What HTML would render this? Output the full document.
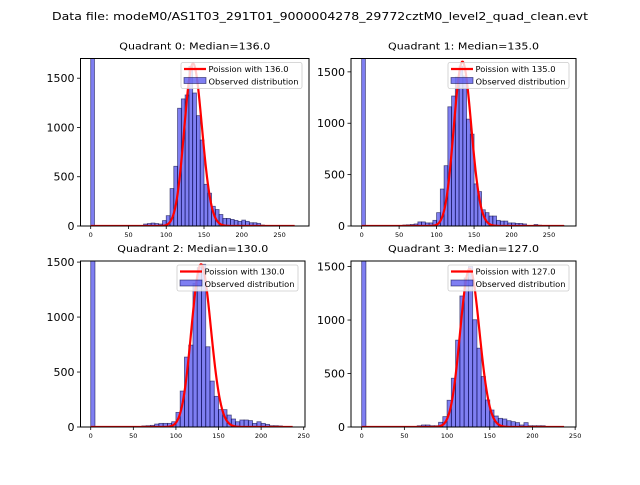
<!DOCTYPE html>
<html><head><meta charset="utf-8"><style>
body{margin:0;background:#fff;}
svg text{font-family:"DejaVu Sans","Liberation Sans",sans-serif;}
</style></head><body>
<svg id="fig" width="640" height="480" viewBox="0 0 640 480">
<rect width="640" height="480" fill="#fff"/>
<text x="52" y="20" font-size="11" textLength="536" lengthAdjust="spacingAndGlyphs">Data file: modeM0/AS1T03_291T01_9000004278_29772cztM0_level2_quad_clean.evt</text>
</svg>
<script>
// Data (bin start values, 5-unit bins)
const binWidth = 5;
const q0Bins = [0,70,75,80,85,90,95,100,105,110,115,120,125,130,135,140,145,150,155,160,165,170,175,180,185,190,195,200,205,210,215,220,225,230,235];
const q0Counts = [5000,20,25,30,25,20,55,105,380,606,1195,1290,1330,1620,1350,1120,873,423,333,200,167,117,77,77,67,57,47,60,47,33,33,27,10,5,5];
const q1Bins = [0,55,60,65,70,75,80,85,90,95,100,105,110,115,120,125,130,135,140,145,150,155,160,165,170,175,180,185,190,195,200,205,210,215,220,225,230,235,240,265];
const q1Counts = [5000,10,12,15,20,40,40,30,30,55,130,360,587,1160,1265,1450,1555,1460,1040,894,410,335,158,130,97,97,55,48,48,30,30,25,25,20,5,5,15,8,5,5];
const q2Bins = [0,60,65,70,75,80,85,90,95,100,105,110,115,120,125,130,135,140,145,150,155,160,165,170,175,180,185,190,195,200,205,210,215,220];
const q2Counts = [5000,10,12,15,27,33,33,33,48,133,327,636,745,1306,1450,1480,730,418,279,158,158,109,73,48,64,64,58,33,48,33,24,12,12,10];
const q3Bins = [0,65,70,75,80,85,90,95,100,105,110,115,120,125,130,135,140,145,150,155,160,165,170,175,180,185,190,195,200,205,210,215];
const q3Counts = [5000,12,19,19,12,12,44,97,250,456,812,1225,1394,1500,1003,737,472,253,159,103,81,75,59,50,41,19,41,12,12,12,12,5];
const medians = [136.0,135.0,130.0,127.0];
const curvePeaks = [1650,1600,1480,1480];
const curveMax = [270,270,237,237];
const xTicks01 = [0,50,100,150,200,250];
const xTicks23 = [0,50,100,150,200,250];
const yTicks = [0,500,1000,1500];

const NS = "http://www.w3.org/2000/svg";
const svg = document.getElementById('fig');
function mk(tag, attrs, parent){const e=document.createElementNS(NS,tag);for(const k in attrs)e.setAttribute(k,attrs[k]);(parent||svg).appendChild(e);return e;}
function lgamma(z){
  if(z<7){let p=1;while(z<7){p*=z;z++;}return lgamma(z)-Math.log(p);}
  return (z-0.5)*Math.log(z)-z+0.5*Math.log(2*Math.PI)+1/(12*z)-1/(360*z*z*z);
}
const panels = [
 {bins:q0Bins,counts:q0Counts,x0:80.5,x1:309,y0:58.5,y1:226,xmin:-13.5,xmax:289,ymax:1700,ticks:xTicks01},
 {bins:q1Bins,counts:q1Counts,x0:351,x1:576,y0:58.5,y1:226,xmin:-14.2,xmax:286,ymax:1630,ticks:xTicks01},
 {bins:q2Bins,counts:q2Counts,x0:80.5,x1:305,y0:261,y1:427,xmin:-12,xmax:251.5,ymax:1510,ticks:xTicks23},
 {bins:q3Bins,counts:q3Counts,x0:351,x1:576,y0:261,y1:427,xmin:-12.5,xmax:251,ymax:1552,ticks:xTicks23}
];
panels.forEach((p,i)=>{
  const g=mk('g',{});
  
  
  const xs=v=>p.x0+(v-p.xmin)/(p.xmax-p.xmin)*(p.x1-p.x0);
  const ys=v=>p.y1-v/p.ymax*(p.y1-p.y0);
  const cp=mk('clipPath',{id:'clip'+i},g);
  mk('rect',{x:p.x0,y:p.y0,width:p.x1-p.x0,height:p.y1-p.y0},cp);
  const bars=mk('g',{'clip-path':'url(#clip'+i+')'},g);
  p.bins.forEach((b,j)=>{
    const c=p.counts[j];
    const r=mk('rect',{x:xs(b),y:ys(c),width:xs(b+binWidth)-xs(b),height:ys(0)-ys(c),fill:'rgba(0,0,230,0.5)',stroke:'rgba(0,0,60,0.6)','stroke-width':0.8},bars);
    
    
  });
  const lam=medians[i];
  const scale=curvePeaks[i]*Math.sqrt(2*Math.PI*lam);
  let d='';
  for(let k=0;k<=curveMax[i];k++){
    const pm=Math.exp(k*Math.log(lam)-lam-lgamma(k+1));
    d+=(k?'L':'M')+xs(k).toFixed(2)+','+ys(pm*scale).toFixed(2);
  }
  const line=mk('path',{d:d,fill:'none',stroke:'#ff0000','stroke-width':2.2,'stroke-linejoin':'round'},bars);
  
  
  const fr=mk('rect',{x:p.x0,y:p.y0,width:p.x1-p.x0,height:p.y1-p.y0,fill:'none',stroke:'#000','stroke-width':1},g);
  
  
  p.ticks.forEach(t=>{
    const x=xs(t); if(x>p.x1+1)return;
    mk('line',{x1:x,x2:x,y1:p.y1,y2:p.y1+3,stroke:'#000','stroke-width':0.8},g);
    const tx=mk('text',{x:x,y:p.y1+11,'font-size':6.5,'text-anchor':'middle'},g);
    tx.textContent=t;
    
    
  });
  yTicks.forEach(t=>{
    const y=ys(t);
    mk('line',{x1:p.x0-3.5,x2:p.x0,y1:y,y2:y,stroke:'#000','stroke-width':0.8},g);
    const tx=mk('text',{x:p.x0-6,y:y+4,'font-size':11,'text-anchor':'end'},g);
    tx.textContent=t;
    
    
  });
  const ti=mk('text',{x:(p.x0+p.x1)/2-75.5,y:p.y0-9,'font-size':10,textLength:151,lengthAdjust:'spacingAndGlyphs'},g);
  ti.textContent='Quadrant '+i+': Median='+medians[i].toFixed(1);
  
  
  const lx=p.x1-128, ly=p.y0+4;
  const lg=mk('g',{},g);
  
  
  mk('rect',{x:lx,y:ly,width:121,height:26,rx:2,fill:'rgba(255,255,255,0.8)',stroke:'#ccc','stroke-width':0.8},lg);
  mk('line',{x1:lx+3,x2:lx+25,y1:ly+6.5,y2:ly+6.5,stroke:'#ff0000','stroke-width':2.2},lg);
  const t1=mk('text',{x:lx+27.5,y:ly+9.5,'font-size':8,textLength:80,lengthAdjust:'spacingAndGlyphs'},lg);
  t1.textContent='Poission with '+medians[i].toFixed(1);
  
  
  mk('rect',{x:lx+3,y:ly+15,width:22,height:6,fill:'rgba(0,0,230,0.5)',stroke:'rgba(0,0,60,0.6)','stroke-width':0.8},lg);
  const t2=mk('text',{x:lx+27.5,y:ly+22,'font-size':8,textLength:90,lengthAdjust:'spacingAndGlyphs'},lg);
  t2.textContent='Observed distribution';
  
  
});
</script>
</body></html>
